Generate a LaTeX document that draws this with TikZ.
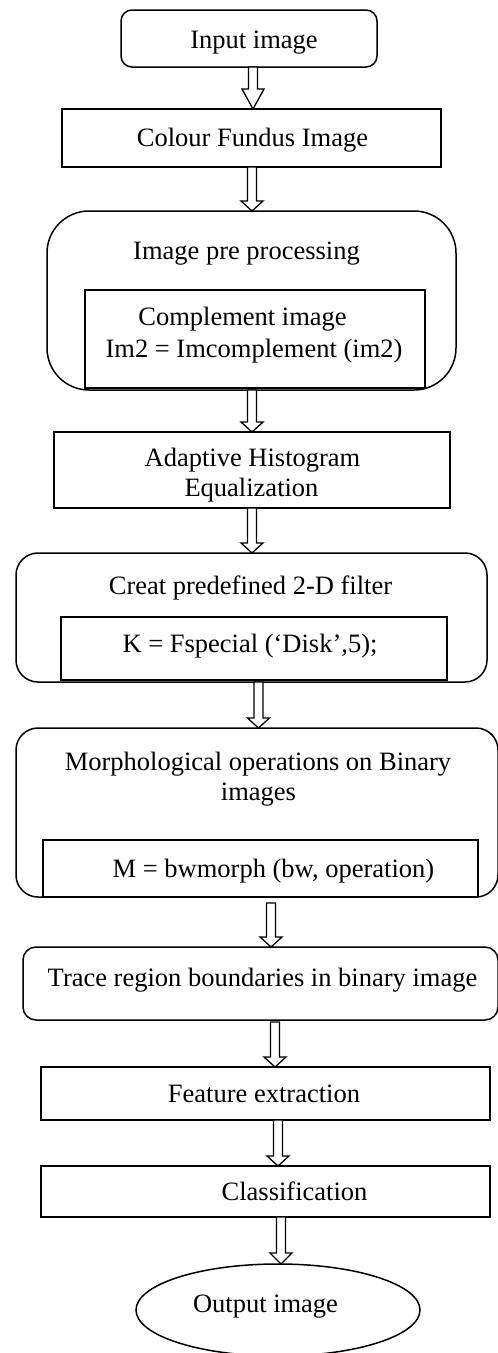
\documentclass[tikz,border=0pt]{standalone}
\usepackage{fontspec}
\setmainfont{Liberation Serif}
\usetikzlibrary{calc,shapes.geometric}
\tikzset{
  box/.style={draw, line width=1.5pt, inner sep=0pt, outer sep=0pt},
  rbox/.style={box, rounded corners=#1},
  lbl/.style={anchor=base, inner sep=0pt, outer sep=0pt, font=\fontsize{26.5}{30}\selectfont},
  arr/.style={draw, line width=1.3pt, fill=white, line join=miter},
}
% #1 from node, #2 to node, #3 x (pt), #4 head length (pt), #5 start gap (pt)
\newcommand\blk[5]{\path[arr] let \p1=(#1.south), \p2=(#2.north) in
  (#3pt-4.5pt,\y1-#5pt) -- (#3pt+4.5pt,\y1-#5pt) -- (#3pt+4.5pt,\y2+#4pt) -- (#3pt+11pt,\y2+#4pt)
  -- (#3pt,\y2) -- (#3pt-11pt,\y2+#4pt) -- (#3pt-4.5pt,\y2+#4pt) -- cycle;}
\begin{document}
\begin{tikzpicture}[x=1pt,y=-1pt]
\useasboundingbox (0,0) rectangle (498,1353);
% boxes
\node[rbox=11pt, minimum width=256pt, minimum height=57pt] (in) at (249,38.5) {};
\node[box, minimum width=379pt, minimum height=58pt] (col) at (251.5,138) {};
\node[rbox=42pt, minimum width=409pt, minimum height=179pt] (pre) at (251.5,300.5) {};
\node[box, minimum width=340pt, minimum height=98pt] (preIn) at (255,339) {};
\node[box, minimum width=396pt, minimum height=76pt] (ahe) at (252,470) {};
\node[rbox=22pt, minimum width=471pt, minimum height=129pt] (cre) at (251.5,617.5) {};
\node[box, minimum width=386pt, minimum height=63pt] (creIn) at (254,648.5) {};
\node[rbox=22pt, minimum width=482pt, minimum height=169pt] (mor) at (257,812.5) {};
\node[box, minimum width=435pt, minimum height=57pt] (morIn) at (260.5,868.5) {};
\node[rbox=13pt, minimum width=475pt, minimum height=73pt] (tra) at (260.5,983.5) {};
\node[box, minimum width=449pt, minimum height=53pt] (fea) at (265.5,1093.5) {};
\node[box, minimum width=449pt, minimum height=51pt] (cla) at (265.5,1191.5) {};
\node[box, ellipse, minimum width=284pt, minimum height=92pt] (out) at (278,1310) {};
% labels
\node[lbl] (t1) at (254,48) {Input image};
\node[lbl] (t2) at (252.5,146) {Colour Fundus Image};
\node[lbl] (t3) at (246.5,259) {Image pre processing};
\node[lbl] (t4) at (242.5,325) {Complement image};
\node[lbl] (t5) at (254,357) {Im2 = Imcomplement (im2)};
\node[lbl] (t6) at (252.5,466) {Adaptive Histogram};
\node[lbl] (t7) at (251.5,496) {Equalization};
\node[lbl] (t8) at (250.5,594) {Creat predefined 2-D filter};
\node[lbl] (t9) at (250,652) {K = Fspecial (‘Disk’,5);};
\node[lbl] (t10) at (258,770) {Morphological operations on Binary};
\node[lbl] (t11) at (258.5,800) {images};
\node[lbl] (t12) at (273.5,877) {M = bwmorph (bw, operation)};
\node[lbl] (t13) at (262.5,986) {Trace region boundaries in binary image};
\node[lbl] (t14) at (264,1102) {Feature extraction};
\node[lbl] (t15) at (294.5,1200) {Classification};
\node[lbl] (t16) at (265.5,1312) {Output image};
% block arrows
\blk{in}{col}{253}{20}{0}
\blk{col}{pre}{252}{10}{0}
\blk{pre}{ahe}{252}{10}{0}
\blk{ahe}{cre}{252}{10}{0}
\blk{cre}{mor}{258.5}{10}{0}
\blk{mor}{tra}{271}{10}{6}
\blk{tra}{fea}{275}{10}{2}
\blk{fea}{cla}{278}{10}{0}
\blk{cla}{out}{281}{11}{0}
\end{tikzpicture}
\end{document}
